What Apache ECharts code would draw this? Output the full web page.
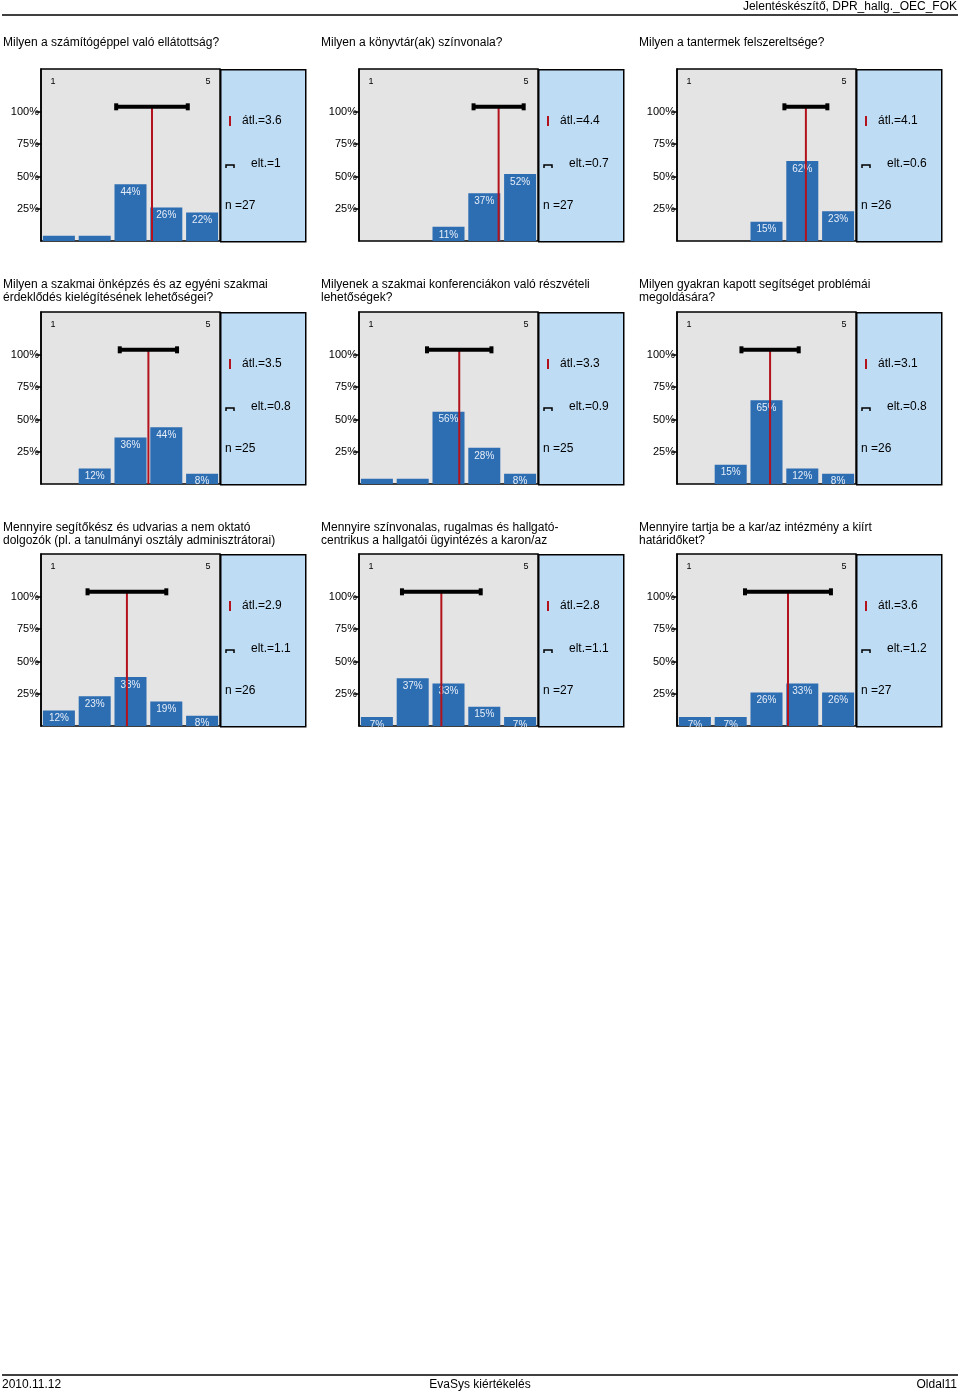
<!DOCTYPE html>
<html><head><meta charset="utf-8">
<script src="https://cdn.jsdelivr.net/npm/echarts@6/dist/echarts.min.js"></script>
<style>html,body{margin:0;padding:0;background:#fff}#c{width:960px;height:1395px}</style>
</head><body><div id="c"></div><script>
// ---- data ----
const questions = [
  'Milyen a számítógéppel való ellátottság?',
  'Milyen a könyvtár(ak) színvonala?',
  'Milyen a tantermek felszereltsége?',
  'Milyen a szakmai önképzés és az egyéni szakmai\nérdeklődés kielégítésének lehetőségei?',
  'Milyenek a szakmai konferenciákon való részvételi\nlehetőségek?',
  'Milyen gyakran kapott segítséget problémái\nmegoldására?',
  'Mennyire segítőkész és udvarias a nem oktató\ndolgozók (pl. a tanulmányi osztály adminisztrátorai)',
  'Mennyire színvonalas, rugalmas és hallgató-\ncentrikus a hallgatói ügyintézés a karon/az',
  'Mennyire tartja be a kar/az intézmény a kiírt\nhatáridőket?'
];
const categories = ['1','2','3','4','5'];
const scaleEnds = [1, 5];
const yTickValues = [25, 50, 75, 100];
const pctQ1 = [4, 4, 44, 26, 22];
const pctQ2 = [0, 0, 11, 37, 52];
const pctQ3 = [0, 0, 15, 62, 23];
const pctQ4 = [0, 12, 36, 44, 8];
const pctQ5 = [4, 4, 56, 28, 8];
const pctQ6 = [0, 15, 65, 12, 8];
const pctQ7 = [12, 23, 38, 19, 8];
const pctQ8 = [7, 37, 33, 15, 7];
const pctQ9 = [7, 7, 26, 33, 26];
const percents = [pctQ1, pctQ2, pctQ3, pctQ4, pctQ5, pctQ6, pctQ7, pctQ8, pctQ9];
const means = [3.6, 4.4, 4.1, 3.5, 3.3, 3.1, 2.9, 2.8, 3.6];
const sds = [1, 0.7, 0.6, 0.8, 0.9, 0.8, 1.1, 1.1, 1.2];
const ns = [27, 27, 26, 25, 25, 26, 26, 27, 27];
const headerText = 'Jelentéskészítő, DPR_hallg._OEC_FOK';
const footerLeft = '2010.11.12';
const footerCenter = 'EvaSys kiértékelés';
const footerRight = 'Oldal11';

// ---- layout / style ----
const FONT = '"Liberation Sans", Arial, sans-serif';
const colX = [0, 318, 636];
const rowTop = [69, 312, 554];
const titleTop = [36, 278, 521];
const GRAY_L = 41, GRAY_W = 179, INFO_W = 85, BOX_H = 172;
const YMAX = 133.3, ERR_Y = 104;
const BAR = '#2D6DB2', RED = '#B3121C', GRAYBG = '#E4E4E4', BLUEBG = '#BEDCF4';

const grids = [], xAxes = [], yAxes = [], series = [], graphics = [];

percents.forEach((pct, i) => {
  const c = i % 3, r = Math.floor(i / 3);
  const gx = colX[c] + GRAY_L, gy = rowTop[r];
  grids.push({left: gx, top: gy, width: GRAY_W, height: BOX_H, show: true,
    backgroundColor: GRAYBG, borderColor: '#000', borderWidth: 1.5, containLabel: false});
  xAxes.push({type: 'category', gridIndex: i, data: categories, show: false});
  xAxes.push({type: 'value', gridIndex: i, min: 0.5, max: 5.5, position: 'top',
    axisLine: {show: false}, axisTick: {show: false}, splitLine: {show: false},
    axisLabel: {show: true, inside: true, margin: 8, customValues: scaleEnds,
      fontSize: 9, fontFamily: FONT, color: '#000',
      formatter: v => v === scaleEnds[0] ? '{l|' + v + '}' : '{r|' + v + '}',
      rich: {l: {fontSize: 9, fontFamily: FONT, color: '#000', padding: [0, 12, 0, 0]},
             r: {fontSize: 9, fontFamily: FONT, color: '#000', padding: [0, 0, 0, 12]}}}});
  yAxes.push({type: 'value', gridIndex: i, min: 0, max: YMAX,
    axisLine: {show: true, lineStyle: {color: '#000', width: 1.5}},
    axisTick: {show: true, length: 5, customValues: yTickValues, lineStyle: {color: '#000', width: 1.5}},
    axisLabel: {show: true, customValues: yTickValues, formatter: '{value}%', fontSize: 11,
      fontFamily: FONT, color: '#000', margin: 2},
    splitLine: {show: false}});
  series.push({type: 'bar', xAxisIndex: 2 * i, yAxisIndex: i, data: pct, barWidth: 32,
    itemStyle: {color: BAR}, z: 2,
    label: {show: true, position: 'insideTop', distance: 3, fontSize: 10, fontFamily: FONT,
      color: '#E6EEF8', formatter: p => p.value >= 5 ? p.value + '%' : ''}});
  const m = means[i], s = sds[i];
  series.push({type: 'line', xAxisIndex: 2 * i + 1, yAxisIndex: i, data: [[m, 0], [m, ERR_Y]],
    symbol: 'none', lineStyle: {color: RED, width: 2}, z: 4, silent: true});
  series.push({type: 'line', xAxisIndex: 2 * i + 1, yAxisIndex: i, data: [[m - s, ERR_Y], [m + s, ERR_Y]],
    symbol: 'rect', symbolSize: [4, 7], itemStyle: {color: '#000'}, showSymbol: true,
    lineStyle: {color: '#000', width: 4}, z: 5, silent: true});

  // info panel
  const ix = colX[c] + GRAY_L + GRAY_W;
  graphics.push({type: 'rect', left: ix, top: gy, z: 1,
    shape: {x: 0, y: 0, width: INFO_W, height: BOX_H},
    style: {fill: BLUEBG, stroke: '#000', lineWidth: 1.5}});
  graphics.push({type: 'line', z: 3, shape: {x1: ix + 10, y1: gy + 47, x2: ix + 10, y2: gy + 57},
    style: {stroke: RED, lineWidth: 2}});
  graphics.push({type: 'text', x: ix + 22, y: gy + 52, z: 3,
    style: {text: 'átl.=' + m, font: '12px ' + FONT, fill: '#000', verticalAlign: 'middle'}});
  graphics.push({type: 'polyline', z: 3,
    shape: {points: [[ix + 6, gy + 99], [ix + 6, gy + 96], [ix + 14, gy + 96], [ix + 14, gy + 99]]},
    style: {stroke: '#000', lineWidth: 1.5, fill: null}});
  graphics.push({type: 'text', x: ix + 31, y: gy + 95, z: 3,
    style: {text: 'elt.=' + s, font: '12px ' + FONT, fill: '#000', verticalAlign: 'middle'}});
  graphics.push({type: 'text', x: ix + 5, y: gy + 137, z: 3,
    style: {text: 'n =' + ns[i], font: '12px ' + FONT, fill: '#000', verticalAlign: 'middle'}});

  graphics.push({type: 'text', x: colX[c] + 3, y: titleTop[r], z: 3,
    style: {text: questions[i], font: '12px ' + FONT, fill: '#000', lineHeight: 13, verticalAlign: 'top'}});
});

// header / footer
graphics.push({type: 'text', x: 957, y: 7, style: {text: headerText, font: '12px ' + FONT, fill: '#000', align: 'right', verticalAlign: 'middle'}});
graphics.push({type: 'line', shape: {x1: 2, y1: 15, x2: 958, y2: 15}, style: {stroke: '#000', lineWidth: 1.5}});
graphics.push({type: 'line', shape: {x1: 2, y1: 1375, x2: 958, y2: 1375}, style: {stroke: '#000', lineWidth: 1.5}});
graphics.push({type: 'text', x: 2, y: 1385, style: {text: footerLeft, font: '12px ' + FONT, fill: '#000', verticalAlign: 'middle'}});
graphics.push({type: 'text', x: 480, y: 1385, style: {text: footerCenter, font: '12px ' + FONT, fill: '#000', align: 'center', verticalAlign: 'middle'}});
graphics.push({type: 'text', x: 957, y: 1385, style: {text: footerRight, font: '12px ' + FONT, fill: '#000', align: 'right', verticalAlign: 'middle'}});

const chart = echarts.init(document.getElementById('c'), null, {renderer: 'canvas'});
chart.setOption({animation: false, backgroundColor: '#fff',
  grid: grids, xAxis: xAxes, yAxis: yAxes, series: series, graphic: graphics});
</script></body></html>
